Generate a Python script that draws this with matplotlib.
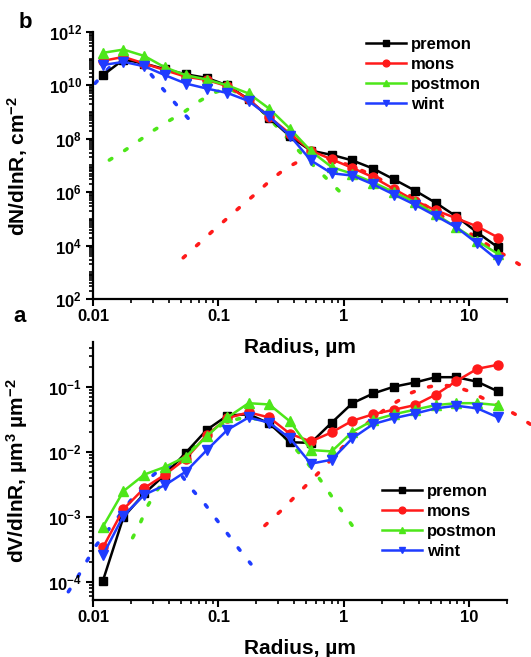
import matplotlib
matplotlib.use('Agg')
import matplotlib.pyplot as plt
from matplotlib.ticker import LogLocator, FuncFormatter, NullFormatter, FixedLocator

plt.rcParams['font.family'] = ['Liberation Sans', 'DejaVu Sans']
plt.rcParams['font.weight'] = 'bold'
plt.rcParams['mathtext.fontset'] = 'custom'
plt.rcParams['mathtext.rm'] = 'Liberation Sans:bold'
plt.rcParams['mathtext.bf'] = 'Liberation Sans:bold'
plt.rcParams['mathtext.it'] = 'Liberation Sans:bold'
plt.rcParams['mathtext.default'] = 'bf'

# ---------------- data ----------------
radius = [0.012, 0.0175, 0.0257, 0.0376, 0.0551, 0.0808, 0.118, 0.174, 0.254, 0.372,
          0.546, 0.80, 1.17, 1.72, 2.52, 3.69, 5.40, 7.91, 11.6, 17.0]
seasons = ['premon', 'mons', 'postmon', 'wint']

# panel b: number size distribution dN/dlnR (cm^-2)
dN_premon = [2.4e10, 9.3e10, 6.6e10, 4.0e10, 2.6e10, 1.9e10, 1.0e10, 3.0e9, 6.2e8, 1.23e8,
             3.6e7, 2.5e7, 1.55e7, 7.6e6, 3.0e6, 1.15e6, 4.0e5, 1.23e5, 3.1e4, 8.5e3]
dN_mons = [8.3e10, 1.17e11, 6.6e10, 3.7e10, 2.1e10, 1.6e10, 9.3e9, 3.0e9, 6.6e8, 1.55e8,
           3.6e7, 1.7e7, 8.1e6, 3.6e6, 1.3e6, 4.8e5, 2.1e5, 1.05e5, 5.2e4, 2.0e4]
dN_postmon = [1.66e11, 2.2e11, 1.26e11, 4.7e10, 2.4e10, 1.66e10, 1.0e10, 5.0e9, 1.35e9, 2.4e8,
              3.5e7, 8.7e6, 4.9e6, 2.3e6, 1.0e6, 4.2e5, 1.5e5, 4.8e4, 1.5e4, 4.8e3]
dN_wint = [5.8e10, 7.6e10, 5.2e10, 2.4e10, 1.17e10, 7.6e9, 5.2e9, 2.6e9, 6.9e8, 1.3e8,
           1.55e7, 5.1e6, 4.2e6, 1.95e6, 8.1e5, 3.4e5, 1.3e5, 4.8e4, 1.2e4, 2.8e3]

# panel a: volume size distribution dV/dlnR (um^3 um^-2)
dV_premon = [1.05e-4, 1.0e-3, 2.3e-3, 4.5e-3, 9.8e-3, 0.0219, 0.0363, 0.038, 0.0275, 0.0141,
             0.0138, 0.0282, 0.0562, 0.0794, 0.101, 0.117, 0.141, 0.141, 0.120, 0.085]
dV_mons = [3.4e-4, 1.32e-3, 2.8e-3, 4.5e-3, 7.9e-3, 0.0182, 0.0331, 0.0407, 0.0339, 0.019,
           0.0145, 0.020, 0.0302, 0.038, 0.0447, 0.0525, 0.0759, 0.123, 0.19, 0.219]
dV_postmon = [7.1e-4, 2.5e-3, 4.5e-3, 5.9e-3, 8.5e-3, 0.0174, 0.0339, 0.0562, 0.0537, 0.0295,
              0.0107, 0.0102, 0.0204, 0.0309, 0.038, 0.0447, 0.0525, 0.0562, 0.0562, 0.0525]
dV_wint = [2.6e-4, 1.05e-3, 2.2e-3, 3.1e-3, 5.0e-3, 0.0107, 0.0219, 0.0339, 0.0282, 0.0162,
           6.6e-3, 7.6e-3, 0.0162, 0.0269, 0.0331, 0.0389, 0.0468, 0.0513, 0.0468, 0.0339]

# fitted modes (dotted)
b_mode1_r = [0.0104, 0.0137, 0.0187, 0.025, 0.033, 0.0418, 0.0531, 0.0674]
b_mode1_v = [1.2e10, 5.0e10, 1.1e11, 6.3e10, 1.2e10, 3.3e9, 8.9e8, 2.45e8]
b_mode2_r = [0.0135, 0.0178, 0.0234, 0.0306, 0.0403, 0.0531, 0.0687, 0.0909, 0.119, 0.178,
             0.257, 0.365, 0.446, 0.587, 0.764, 1.0]
b_mode2_v = [1.6e7, 3.6e7, 8.7e7, 2.1e8, 4.7e8, 1.0e9, 2.4e9, 5.2e9, 7.9e9, 3.2e9,
             5.6e8, 8.9e7, 3.2e7, 8.9e6, 2.6e6, 7.4e5]
b_mode3_r = [0.0524, 0.0678, 0.0887, 0.1175, 0.1538, 0.2014, 0.262, 0.345, 0.446, 0.587,
             0.773, 1.117, 1.67, 2.41, 2.97, 4.84, 8.71, 14.56, 19.8, 26.1]
b_mode3_v = [3.5e3, 1.05e4, 3.3e4, 1.05e5, 3.2e5, 9.3e5, 2.9e6, 7.9e6, 1.5e7, 2.0e7,
             1.8e7, 1.0e7, 4.5e6, 1.8e6, 1.07e6, 2.5e5, 4.5e4, 9.5e3, 4.0e3, 1.74e3]

a_mode1_r = [0.00636, 0.0075, 0.0088, 0.0104, 0.01317, 0.01694, 0.0216, 0.0276, 0.0342, 0.0411,
             0.0502, 0.0611, 0.078, 0.0967, 0.1184, 0.1464, 0.1816]
a_mode1_v = [7.1e-5, 1.17e-4, 2.0e-4, 3.5e-4, 6.3e-4, 1.17e-3, 2.2e-3, 3.8e-3, 5.4e-3, 6.0e-3,
             4.5e-3, 2.7e-3, 1.58e-3, 9.1e-4, 5.5e-4, 3.2e-4, 1.9e-4]
a_mode2_r = [0.0207, 0.0237, 0.0271, 0.0312, 0.0411, 0.0541, 0.0712, 0.0938, 0.1235, 0.1626,
             0.214, 0.282, 0.371, 0.471, 0.606, 0.75, 0.895, 1.081, 1.30]
a_mode2_v = [4.8e-4, 7.9e-4, 1.45e-3, 2.3e-3, 5.0e-3, 8.9e-3, 0.0151, 0.0229, 0.0302, 0.0339,
             0.0316, 0.024, 0.0141, 8.3e-3, 4.5e-3, 2.5e-3, 1.5e-3, 9.1e-4, 5.5e-4]
a_mode3_r = [0.2347, 0.313, 0.412, 0.536, 0.706, 0.929, 1.224, 1.61, 2.08, 2.63,
             3.46, 4.42, 5.82, 7.66, 10.1, 13.7, 18.06, 23.8, 31.3]
a_mode3_v = [7.4e-4, 1.23e-3, 2.1e-3, 3.5e-3, 6.0e-3, 0.0107, 0.0182, 0.030, 0.0437, 0.0589,
             0.0813, 0.0977, 0.107, 0.102, 0.085, 0.063, 0.050, 0.037, 0.026]

xticks = [0.01, 0.1, 1, 10]
xtick_labels = ['0.01', '0.1', '1', '10']

# ---------------- style ----------------
colors = {'premon': '#000000', 'mons': '#ff1a1a', 'postmon': '#4de619', 'wint': '#1f3cff'}
markers = {'premon': 's', 'mons': 'o', 'postmon': '^', 'wint': 'v'}
msizes = {'premon': 5.5, 'mons': 6.5, 'postmon': 6.5, 'wint': 6.5}
dot_style = (0, (0.8, 4.2))

W, H = 531, 657
fig = plt.figure(figsize=(W / 100, H / 100), dpi=100)

def px_axes(l, r, t, b):
    return fig.add_axes([l / W, 1 - b / H, (r - l) / W, (b - t) / H])

ax_b = px_axes(93, 507, 32, 299)
ax_a = px_axes(93, 507, 342, 600)
ax_a.patch.set_visible(False)
ax_b.patch.set_visible(False)

def style_axis(ax):
    ax.set_xscale('log')
    ax.set_yscale('log')
    ax.spines['top'].set_visible(False)
    ax.spines['right'].set_visible(False)
    for s in ('left', 'bottom'):
        ax.spines[s].set_linewidth(1.6)
    ax.set_xlim(0.01, 20)
    ax.xaxis.set_major_locator(FixedLocator(xticks))
    ax.xaxis.set_major_formatter(FuncFormatter(lambda v, p: xtick_labels[xticks.index(v)] if v in xticks else ''))
    ax.xaxis.set_minor_locator(LogLocator(base=10, subs=range(2, 10), numticks=50))
    ax.xaxis.set_minor_formatter(NullFormatter())
    ax.tick_params(which='major', direction='out', length=5, width=1.5, labelsize=12, pad=3)
    ax.tick_params(which='minor', direction='out', length=3, width=1.2)
    ax.tick_params(axis='x', which='major', pad=2.5)
    ax.set_xlabel('Radius, µm', fontsize=15, fontweight='bold', labelpad=10)

def exp_fmt(v, p):
    import math
    e = int(round(math.log10(v)))
    return r'$10^{%d}$' % e

leg_kw = dict(frameon=False, handlelength=2.4, handletextpad=0.3, labelspacing=0.3,
              borderpad=0, borderaxespad=0, markerscale=0.75, prop={'weight': 'bold', 'size': 12})

# panel b
ax = ax_b
style_axis(ax)
for r_, v_, c in ((b_mode1_r, b_mode1_v, colors['wint']), (b_mode2_r, b_mode2_v, colors['postmon']),
                  (b_mode3_r, b_mode3_v, colors['mons'])):
    ax.plot(r_, v_, linestyle=dot_style, color=c, lw=2.6, dash_capstyle='round', clip_on=False, zorder=1)
for s, d in zip(seasons, (dN_premon, dN_mons, dN_postmon, dN_wint)):
    ax.plot(radius, d, color=colors[s], marker=markers[s], ms=msizes[s], lw=1.8, label=s, zorder=3)
ax.set_ylim(1e2, 1e12)
ax.yaxis.set_major_locator(FixedLocator([1e2, 1e4, 1e6, 1e8, 1e10, 1e12]))
ax.yaxis.set_major_formatter(FuncFormatter(exp_fmt))
ax.yaxis.set_minor_locator(LogLocator(base=10, subs=range(1, 10), numticks=50))
ax.yaxis.set_minor_formatter(NullFormatter())
ax.set_ylabel('dN/dlnR, cm$^{-2}$', fontsize=15, fontweight='bold')
ax.yaxis.set_label_coords((30 - 93) / (507 - 93), 0.5)
ax.legend(loc='upper left', bbox_to_anchor=(366 / W, 1 - 37 / H), bbox_transform=fig.transFigure, **leg_kw)

# panel a
ax = ax_a
style_axis(ax)
for r_, v_, c in ((a_mode1_r, a_mode1_v, colors['wint']), (a_mode2_r, a_mode2_v, colors['postmon']),
                  (a_mode3_r, a_mode3_v, colors['mons'])):
    ax.plot(r_, v_, linestyle=dot_style, color=c, lw=2.6, dash_capstyle='round', clip_on=False, zorder=1)
for s, d in zip(seasons, (dV_premon, dV_mons, dV_postmon, dV_wint)):
    ax.plot(radius, d, color=colors[s], marker=markers[s], ms=msizes[s], lw=1.8, label=s, zorder=3)
ax.set_ylim(5.3e-5, 0.49)
ax.yaxis.set_major_locator(FixedLocator([1e-4, 1e-3, 1e-2, 1e-1]))
ax.yaxis.set_major_formatter(FuncFormatter(exp_fmt))
ax.yaxis.set_minor_locator(LogLocator(base=10, subs=range(2, 10), numticks=50))
ax.yaxis.set_minor_formatter(NullFormatter())
ax.set_ylabel('dV/dlnR, µm$^3$ µm$^{-2}$', fontsize=15, fontweight='bold')
ax.yaxis.set_label_coords((30 - 93) / (507 - 93), 0.5)
ax.legend(loc='upper left', bbox_to_anchor=(382 / W, 1 - 484 / H), bbox_transform=fig.transFigure, **leg_kw)

fig.text(25 / W, 1 - 22 / H, 'b', fontsize=16, fontweight='bold', ha='center', va='center')
fig.text(20 / W, 1 - 317 / H, 'a', fontsize=16, fontweight='bold', ha='center', va='center')

fig.savefig('out.png', dpi=100)
